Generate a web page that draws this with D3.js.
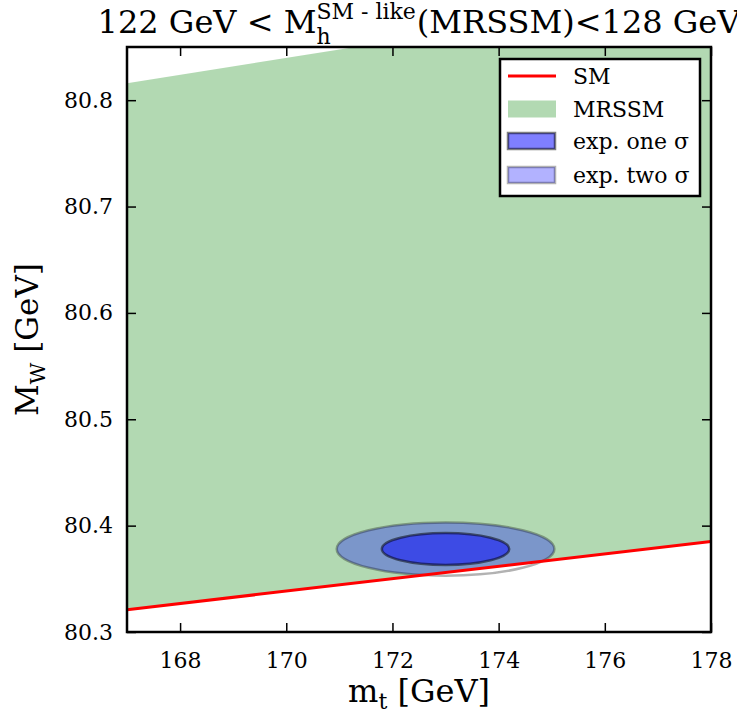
<!DOCTYPE html>
<html><head><meta charset="utf-8">
<script src="https://cdn.jsdelivr.net/npm/d3@7"></script>
<style>body{margin:0;background:#fff}svg{display:block;font-family:"DejaVu Serif",serif}</style>
</head><body><svg id="c" width="737" height="718"></svg>
<script>
// ---- data ----
const xDomain = [167, 178];
const yDomain = [80.3, 80.85];
const xTicks = [168, 170, 172, 174, 176, 178];
const yTicks = [80.3, 80.4, 80.5, 80.6, 80.7, 80.8];
const smMt = [167, 178];
const smMw = [80.321, 80.385];
const mrssmUpperMt = [167, 178];
const mrssmUpperMw = [80.816, 80.903];
const expCenter = [173.0, 80.378];
const oneSigma = [1.2, 0.015];
const twoSigma = [2.05, 0.025];
const legendLabels = ["SM", "MRSSM", "exp. one σ", "exp. two σ"];

const svg = d3.select("#c");
const L = 127, R = 711, T = 47, B = 632;
const x = d3.scaleLinear().domain(xDomain).range([L, R]);
const y = d3.scaleLinear().domain(yDomain).range([B, T]);

const defs = svg.append("defs");
defs.append("clipPath").attr("id","plot").append("rect").attr("x",L).attr("y",T).attr("width",R-L).attr("height",B-T);
const smPts = smMt.map((m,i)=>[x(m), y(smMw[i])]);
defs.append("clipPath").attr("id","aboveSM").append("path")
  .attr("d", d3.line()([[smPts[0][0], T-200], [smPts[1][0], T-200], smPts[1], smPts[0]]));

const g = svg.append("g").attr("clip-path","url(#plot)");
const band = [];
mrssmUpperMt.forEach((m,i)=>band.push([x(m), y(mrssmUpperMw[i])]));
for (let i = smMt.length-1; i>=0; i--) band.push([x(smMt[i]), y(smMw[i])]);
g.append("path").attr("d", d3.line()(band)+"Z").attr("fill","rgb(0,128,0)").attr("fill-opacity",0.3);

function ell(sig, fillOp, strokeOp){
  const cx = x(expCenter[0]), cy = y(expCenter[1]);
  const rx = x(expCenter[0]+sig[0]) - cx, ry = cy - y(expCenter[1]+sig[1]);
  g.append("ellipse").attr("cx",cx).attr("cy",cy).attr("rx",rx).attr("ry",ry)
    .attr("fill","blue").attr("fill-opacity",fillOp).attr("clip-path","url(#aboveSM)");
  g.append("ellipse").attr("cx",cx).attr("cy",cy).attr("rx",rx).attr("ry",ry)
    .attr("fill","none").attr("stroke","black").attr("stroke-opacity",strokeOp).attr("stroke-width",2.5);
}
ell(twoSigma, 0.31, 0.3);
ell(oneSigma, 0.5, 0.5);

g.append("path").attr("d", d3.line()(smPts)).attr("stroke","#ff0000").attr("stroke-width",3).attr("fill","none");

const tickLen = 9;
const ax = svg.append("g");
ax.append("g").attr("transform",`translate(0,${B})`)
  .call(d3.axisBottom(x).tickValues(xTicks).tickSize(-tickLen).tickPadding(20).tickFormat(d3.format("d")));
ax.append("g").attr("transform",`translate(0,${T})`)
  .call(d3.axisTop(x).tickValues(xTicks).tickSize(-tickLen).tickFormat(""));
ax.append("g").attr("transform",`translate(${L},0)`)
  .call(d3.axisLeft(y).tickValues(yTicks).tickSize(-tickLen).tickPadding(14).tickFormat(d3.format(".1f")));
ax.append("g").attr("transform",`translate(${R},0)`)
  .call(d3.axisRight(y).tickValues(yTicks).tickSize(-tickLen).tickFormat(""));
ax.selectAll(".domain").remove();
ax.selectAll(".tick line").attr("stroke","#000").attr("stroke-width",1.5);
ax.selectAll(".tick text").attr("font-family","DejaVu Serif").attr("font-size",22).attr("fill","#000");
svg.append("rect").attr("x",L).attr("y",T).attr("width",R-L).attr("height",B-T)
  .attr("fill","none").attr("stroke","#000").attr("stroke-width",2.5);

const xl = svg.append("text").attr("x",(L+R)/2).attr("y",702).attr("text-anchor","middle").attr("font-size",32);
xl.append("tspan").text("m");
xl.append("tspan").attr("font-size",22).attr("dy",7).text("t");
xl.append("tspan").attr("dy",-7).text(" [GeV]");
const yl = svg.append("text").attr("transform",`translate(38,${(T+B)/2}) rotate(-90)`).attr("text-anchor","middle").attr("font-size",31);
yl.append("tspan").text("M");
yl.append("tspan").attr("font-size",21).attr("dy",7).text("W");
yl.append("tspan").attr("dy",-7).text(" [GeV]");

const tf = 32, small = 22;
const tg = svg.append("g");
function t(str, size, dx, dy){
  return tg.append("text").attr("x",dx).attr("y",dy).attr("font-size",size).text(str);
}
const p1 = t("122 GeV < M", tf, 0, 33);
const w1 = p1.node().getComputedTextLength();
const sub = t("h", small, w1, 44);
const sup = t("SM - like", small, w1, 19);
const w2 = Math.max(sub.node().getComputedTextLength(), sup.node().getComputedTextLength());
const p3 = t("(MRSSM)<128 GeV", tf, w1+w2+1, 33);
const total = w1 + w2 + 1 + p3.node().getComputedTextLength();
tg.attr("transform",`translate(${(L+R)/2 - total/2},0)`);

const lg = svg.append("g");
lg.append("rect").attr("x",500).attr("y",59).attr("width",200).attr("height",137).attr("fill","#fff").attr("stroke","#000").attr("stroke-width",2.5);
const rows = [76, 109, 141, 175];
lg.append("line").attr("x1",508).attr("x2",556).attr("y1",rows[0]).attr("y2",rows[0]).attr("stroke","#ff0000").attr("stroke-width",3);
lg.append("rect").attr("x",508).attr("y",rows[1]-8.5).attr("width",48).attr("height",17).attr("fill","rgb(0,128,0)").attr("fill-opacity",0.3);
lg.append("rect").attr("x",508).attr("y",rows[2]-8).attr("width",47).attr("height",16).attr("fill","blue").attr("fill-opacity",0.5).attr("stroke","#000").attr("stroke-opacity",0.5).attr("stroke-width",2.5);
lg.append("rect").attr("x",508).attr("y",rows[3]-8).attr("width",47).attr("height",16).attr("fill","blue").attr("fill-opacity",0.3).attr("stroke","#000").attr("stroke-opacity",0.3).attr("stroke-width",2.5);
legendLabels.forEach((s,i)=>{
  lg.append("text").attr("x",573).attr("y",rows[i]+8).attr("font-size",22).text(s);
});
</script></body></html>
